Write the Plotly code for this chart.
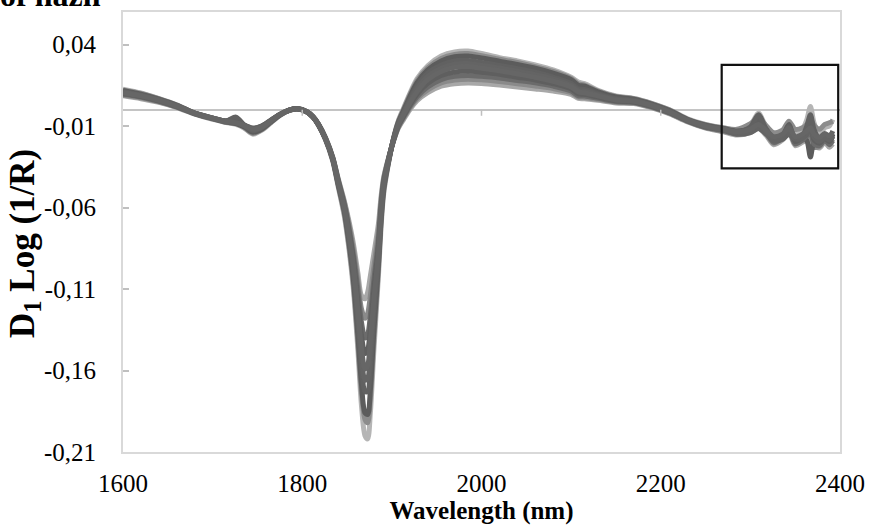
import plotly.graph_objects as go

# ---------------- data ----------------
wavelength = [1600, 1620, 1640, 1660, 1680, 1700, 1715, 1726, 1736, 1745,
              1755, 1765, 1775, 1786, 1795, 1805, 1812, 1818, 1826, 1834,
              1840, 1847, 1852, 1857, 1862, 1866, 1870, 1873, 1876, 1880,
              1885, 1888, 1891, 1897, 1902, 1907, 1913, 1920, 1928, 1940,
              1955, 1970, 1985, 2000, 2020, 2040, 2060, 2080, 2100, 2108,
              2115, 2130, 2150, 2170, 2190, 2210, 2230, 2250, 2270, 2285,
              2300, 2309, 2318, 2326, 2336, 2343, 2350, 2358, 2363, 2367,
              2371, 2377, 2383, 2388, 2392]

spectrum_a = [0.0127, 0.0103, 0.0069, 0.0030, -0.0020, -0.0055, -0.0078, -0.0090, -0.0115, -0.0150,
              -0.0125, -0.0080, -0.0035, -0.0002, 0.0008, -0.0012, -0.0045, -0.0095, -0.0185, -0.0315,
              -0.0470, -0.0655, -0.0850, -0.1100, -0.1470, -0.1810, -0.2000, -0.2020, -0.1860, -0.1470,
              -0.1020, -0.0715, -0.0510, -0.0305, -0.0170, -0.0070, 0.0010, 0.0100, 0.0190, 0.0270,
              0.0330, 0.0355, 0.0360, 0.0345, 0.0320, 0.0300, 0.0275, 0.0245, 0.0200, 0.0170,
              0.0160, 0.0120, 0.0085, 0.0070, 0.0040, 0.0000, -0.0055, -0.0090, -0.0110, -0.0125,
              -0.0095, -0.0020, -0.0110, -0.0150, -0.0140, -0.0080, -0.0140, -0.0120, -0.0060, 0.0020,
              -0.0080, -0.0150, -0.0110, -0.0100, -0.0060]

spectrum_g = [0.0122, 0.0100, 0.0068, 0.0029, -0.0020, -0.0054, -0.0076, -0.0060, -0.0112, -0.0145,
              -0.0122, -0.0078, -0.0034, -0.0002, 0.0008, -0.0012, -0.0045, -0.0094, -0.0183, -0.0310,
              -0.0462, -0.0640, -0.0830, -0.1070, -0.1420, -0.1730, -0.1900, -0.1920, -0.1770, -0.1400,
              -0.0980, -0.0690, -0.0495, -0.0300, -0.0172, -0.0075, 0.0002, 0.0090, 0.0178, 0.0258,
              0.0315, 0.0340, 0.0345, 0.0332, 0.0310, 0.0290, 0.0265, 0.0235, 0.0192, 0.0160,
              0.0152, 0.0115, 0.0082, 0.0068, 0.0038, -0.0002, -0.0058, -0.0092, -0.0112, -0.0120,
              -0.0085, -0.0050, -0.0100, -0.0140, -0.0125, -0.0070, -0.0120, -0.0110, -0.0090, -0.0060,
              -0.0095, -0.0120, -0.0090, -0.0080, -0.0070]

spectrum_b = [0.0118, 0.0095, 0.0065, 0.0028, -0.0020, -0.0052, -0.0075, -0.0085, -0.0108, -0.0138,
              -0.0118, -0.0075, -0.0033, -0.0001, 0.0007, -0.0012, -0.0045, -0.0092, -0.0180, -0.0305,
              -0.0455, -0.0625, -0.0810, -0.1040, -0.1380, -0.1680, -0.1860, -0.1870, -0.1720, -0.1350,
              -0.0950, -0.0670, -0.0480, -0.0300, -0.0175, -0.0080, -0.0005, 0.0080, 0.0165, 0.0245,
              0.0300, 0.0325, 0.0330, 0.0318, 0.0298, 0.0278, 0.0255, 0.0225, 0.0185, 0.0150,
              0.0145, 0.0110, 0.0078, 0.0065, 0.0035, -0.0005, -0.0060, -0.0095, -0.0115, -0.0130,
              -0.0115, -0.0085, -0.0140, -0.0185, -0.0165, -0.0120, -0.0190, -0.0170, -0.0190, -0.0290,
              -0.0200, -0.0190, -0.0175, -0.0200, -0.0150]

spectrum_c = [0.0112, 0.0090, 0.0062, 0.0025, -0.0021, -0.0050, -0.0068, -0.0045, -0.0100, -0.0128,
              -0.0110, -0.0070, -0.0031, -0.0001, 0.0007, -0.0012, -0.0045, -0.0091, -0.0180, -0.0302,
              -0.0450, -0.0615, -0.0790, -0.1000, -0.1320, -0.1580, -0.1730, -0.1730, -0.1590, -0.1270,
              -0.0920, -0.0650, -0.0470, -0.0295, -0.0178, -0.0088, -0.0015, 0.0065, 0.0145, 0.0225,
              0.0275, 0.0300, 0.0302, 0.0290, 0.0272, 0.0252, 0.0230, 0.0200, 0.0162, 0.0128,
              0.0125, 0.0098, 0.0070, 0.0060, 0.0030, -0.0010, -0.0062, -0.0098, -0.0118, -0.0138,
              -0.0105, -0.0030, -0.0125, -0.0175, -0.0158, -0.0100, -0.0175, -0.0160, -0.0100, -0.0030,
              -0.0120, -0.0175, -0.0160, -0.0165, -0.0130]

spectrum_h = [0.0108, 0.0088, 0.0060, 0.0024, -0.0021, -0.0051, -0.0070, -0.0079, -0.0099, -0.0124,
              -0.0108, -0.0069, -0.0030, -0.0001, 0.0006, -0.0012, -0.0044, -0.0090, -0.0179, -0.0301,
              -0.0445, -0.0608, -0.0775, -0.0975, -0.1275, -0.1520, -0.1660, -0.1650, -0.1500, -0.1215,
              -0.0900, -0.0635, -0.0460, -0.0292, -0.0179, -0.0092, -0.0022, 0.0052, 0.0128, 0.0205,
              0.0255, 0.0280, 0.0284, 0.0272, 0.0256, 0.0236, 0.0215, 0.0188, 0.0150, 0.0118,
              0.0115, 0.0090, 0.0065, 0.0056, 0.0028, -0.0012, -0.0064, -0.0102, -0.0125, -0.0150,
              -0.0140, -0.0115, -0.0150, -0.0190, -0.0180, -0.0150, -0.0180, -0.0175, -0.0150, -0.0120,
              -0.0170, -0.0195, -0.0170, -0.0185, -0.0160]

spectrum_d = [0.0105, 0.0085, 0.0058, 0.0022, -0.0022, -0.0052, -0.0072, -0.0080, -0.0098, -0.0120,
              -0.0105, -0.0068, -0.0030, -0.0002, 0.0006, -0.0012, -0.0044, -0.0090, -0.0178, -0.0300,
              -0.0440, -0.0600, -0.0760, -0.0950, -0.1230, -0.1460, -0.1590, -0.1570, -0.1420, -0.1160,
              -0.0880, -0.0620, -0.0450, -0.0290, -0.0180, -0.0095, -0.0030, 0.0040, 0.0110, 0.0185,
              0.0235, 0.0260, 0.0265, 0.0255, 0.0240, 0.0220, 0.0200, 0.0175, 0.0140, 0.0110,
              0.0105, 0.0085, 0.0060, 0.0052, 0.0025, -0.0015, -0.0065, -0.0100, -0.0120, -0.0135,
              -0.0120, -0.0090, -0.0130, -0.0165, -0.0150, -0.0110, -0.0165, -0.0150, -0.0130, -0.0110,
              -0.0150, -0.0170, -0.0145, -0.0160, -0.0140]

spectrum_i = [0.0100, 0.0081, 0.0055, 0.0020, -0.0023, -0.0053, -0.0071, -0.0050, -0.0096, -0.0116,
              -0.0101, -0.0065, -0.0029, -0.0002, 0.0005, -0.0012, -0.0043, -0.0089, -0.0177, -0.0297,
              -0.0435, -0.0590, -0.0740, -0.0920, -0.1165, -0.1380, -0.1495, -0.1475, -0.1340, -0.1100,
              -0.0840, -0.0600, -0.0440, -0.0288, -0.0182, -0.0100, -0.0038, 0.0030, 0.0095, 0.0162,
              0.0210, 0.0232, 0.0238, 0.0230, 0.0218, 0.0200, 0.0183, 0.0160, 0.0128, 0.0098,
              0.0095, 0.0078, 0.0055, 0.0048, 0.0021, -0.0018, -0.0068, -0.0104, -0.0124, -0.0140,
              -0.0120, -0.0060, -0.0120, -0.0180, -0.0160, -0.0090, -0.0195, -0.0165, -0.0120, -0.0080,
              -0.0185, -0.0205, -0.0175, -0.0195, -0.0165]

spectrum_e = [0.0095, 0.0078, 0.0052, 0.0018, -0.0024, -0.0054, -0.0070, -0.0078, -0.0095, -0.0112,
              -0.0098, -0.0063, -0.0028, -0.0002, 0.0005, -0.0012, -0.0043, -0.0088, -0.0175, -0.0295,
              -0.0430, -0.0580, -0.0720, -0.0890, -0.1100, -0.1300, -0.1400, -0.1380, -0.1260, -0.1040,
              -0.0800, -0.0580, -0.0430, -0.0285, -0.0185, -0.0105, -0.0045, 0.0020, 0.0080, 0.0140,
              0.0185, 0.0205, 0.0210, 0.0205, 0.0195, 0.0180, 0.0165, 0.0145, 0.0115, 0.0085,
              0.0085, 0.0070, 0.0050, 0.0045, 0.0018, -0.0020, -0.0070, -0.0108, -0.0128, -0.0145,
              -0.0130, -0.0100, -0.0140, -0.0200, -0.0170, -0.0125, -0.0210, -0.0185, -0.0160, -0.0140,
              -0.0210, -0.0220, -0.0185, -0.0215, -0.0190]

spectrum_j = [0.0090, 0.0074, 0.0049, 0.0016, -0.0025, -0.0056, -0.0073, -0.0082, -0.0098, -0.0115,
              -0.0100, -0.0065, -0.0029, -0.0003, 0.0005, -0.0012, -0.0043, -0.0087, -0.0173, -0.0292,
              -0.0425, -0.0570, -0.0700, -0.0855, -0.1050, -0.1220, -0.1280, -0.1250, -0.1140, -0.0960,
              -0.0750, -0.0555, -0.0420, -0.0283, -0.0188, -0.0110, -0.0052, 0.0010, 0.0068, 0.0122,
              0.0165, 0.0182, 0.0188, 0.0184, 0.0173, 0.0160, 0.0146, 0.0130, 0.0105, 0.0078,
              0.0076, 0.0064, 0.0046, 0.0041, 0.0015, -0.0022, -0.0072, -0.0110, -0.0132, -0.0150,
              -0.0135, -0.0105, -0.0150, -0.0205, -0.0175, -0.0130, -0.0200, -0.0190, -0.0175, -0.0195,
              -0.0230, -0.0225, -0.0190, -0.0205, -0.0180]

spectrum_f = [0.0086, 0.0068, 0.0045, 0.0014, -0.0026, -0.0058, -0.0075, -0.0085, -0.0100, -0.0118,
              -0.0102, -0.0066, -0.0029, -0.0003, 0.0004, -0.0012, -0.0042, -0.0086, -0.0170, -0.0290,
              -0.0420, -0.0560, -0.0680, -0.0820, -0.1000, -0.1140, -0.1160, -0.1120, -0.1020, -0.0880,
              -0.0700, -0.0530, -0.0410, -0.0280, -0.0190, -0.0115, -0.0060, 0.0000, 0.0055, 0.0105,
              0.0145, 0.0160, 0.0165, 0.0162, 0.0152, 0.0140, 0.0128, 0.0115, 0.0095, 0.0070,
              0.0068, 0.0058, 0.0042, 0.0038, 0.0012, -0.0025, -0.0075, -0.0112, -0.0135, -0.0155,
              -0.0140, -0.0115, -0.0160, -0.0215, -0.0185, -0.0140, -0.0220, -0.0200, -0.0185, -0.0175,
              -0.0215, -0.0235, -0.0200, -0.0230, -0.0210]

x_tick_vals = [1600, 1800, 2000, 2200, 2400]
x_tick_text = ["1600", "1800", "2000", "2200", "2400"]
y_tick_vals = [-0.21, -0.16, -0.11, -0.06, -0.01, 0.04]
y_tick_text = ["-0,21", "-0,16", "-0,11", "-0,06", "-0,01", "0,04"]

box_x = [2268, 2398]
box_y = [-0.036, 0.0275]

# ---------------- figure ----------------
series = [
    (spectrum_a, "#b5b5b5"),
    (spectrum_f, "#a8a8a8"),
    (spectrum_j, "#8a8a8a"),
    (spectrum_g, "#8c8c8c"),
    (spectrum_b, "#5c5c5c"),
    (spectrum_e, "#6b6b6b"),
    (spectrum_i, "#5f5f5f"),
    (spectrum_c, "#616161"),
    (spectrum_h, "#646464"),
    (spectrum_d, "#666666"),
]

fig = go.Figure()
for vals, col in series:
    fig.add_trace(go.Scatter(
        x=wavelength, y=vals, mode="lines",
        line=dict(color=col, width=5, shape="spline", smoothing=0.8),
        showlegend=False, hoverinfo="skip"))

serif = "Liberation Serif, Times New Roman, serif"

# tick marks on the horizontal (zero) axis
for xv in x_tick_vals[1:-1]:
    fig.add_shape(type="line", xref="x", yref="y", x0=xv, x1=xv,
                  ysizemode="pixel", yanchor=0, y0=0, y1=-6,
                  line=dict(color="#bfbfbf", width=1.5))

# highlight box
fig.add_shape(type="rect", xref="x", yref="y",
              x0=box_x[0], x1=box_x[1], y0=box_y[0], y1=box_y[1],
              line=dict(color="#111111", width=2.2), fillcolor="rgba(0,0,0,0)")

# cropped title remnant
fig.add_annotation(text="<b>of hazn</b>", xref="paper", yref="paper",
                   x=0, y=1, xanchor="left", yanchor="bottom",
                   xshift=-125, yshift=-3, showarrow=False,
                   font=dict(family=serif, size=32, color="black"))

# y-axis title
fig.add_annotation(text="<b>D<sub>1</sub> Log (1/R)</b>", xref="paper", yref="paper",
                   x=0, y=0.5, xanchor="center", yanchor="middle", textangle=-90,
                   xshift=-99, yshift=-12, showarrow=False,
                   font=dict(family=serif, size=35, color="black"))

fig.update_layout(
    width=875, height=529,
    margin=dict(l=123, r=31, t=10, b=77),
    paper_bgcolor="white", plot_bgcolor="white",
    font=dict(family=serif, color="black"),
    xaxis=dict(range=[1600, 2400], tickmode="array", tickvals=x_tick_vals,
               ticktext=x_tick_text, ticks="", showgrid=False, zeroline=False,
               showline=True, mirror=True, linecolor="#d9d9d9", linewidth=2,
               tickfont=dict(size=25, family=serif), ticklabelstandoff=8,
               title=dict(text="<b>Wavelength (nm)</b>", font=dict(size=25, family=serif),
                          standoff=4)),
    yaxis=dict(range=[-0.21, 0.06], tickmode="array", tickvals=y_tick_vals,
               ticktext=y_tick_text, ticks="inside", ticklen=6, tickcolor="#bfbfbf",
               tickwidth=1.5, showgrid=False, zeroline=True, zerolinecolor="#c4c4c4",
               zerolinewidth=2, showline=True, mirror=True, linecolor="#d9d9d9",
               linewidth=2, tickfont=dict(size=25, family=serif), ticklabelstandoff=20),
)

fig.write_html("out.html")
